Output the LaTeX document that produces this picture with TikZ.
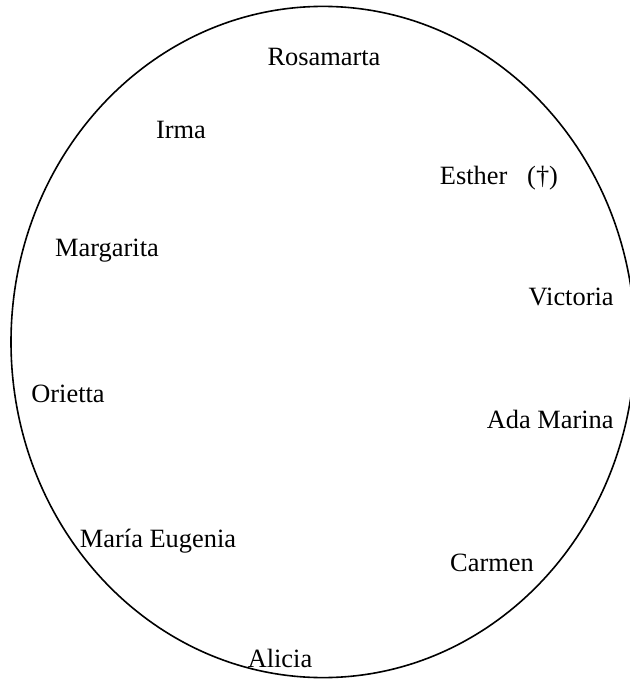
\documentclass[tikz,border=0pt]{standalone}
\usepackage{fontspec}
\setmainfont{Liberation Serif}
\usepackage{tikz}
\usetikzlibrary{positioning}

\begin{document}
\begin{tikzpicture}[x=0.5pt, y=-0.5pt, every node/.style={font=\fontsize{13.2}{15}\selectfont, inner sep=0pt}]
  \useasboundingbox (0,0) rectangle (629,679);
  \draw[line width=0.8pt] (323,342) ellipse [x radius=156pt, y radius=167.8pt];

  \node (rosamarta) at (324,57) {Rosamarta};
  \node (irma) at (181,130) {Irma};
  \node (esther) at (499,178) {Esther\hspace{0.75em}(†)};
  \node (margarita) at (107,251) {Margarita};
  \node[anchor=east] (victoria) at (614,297) {Victoria};
  \node (orietta) at (68,394) {Orietta};
  \node[anchor=east] (adamarina) at (614,419) {Ada Marina};
  \node (mariaeugenia) at (158,541) {María Eugenia};
  \node (carmen) at (492,563) {Carmen};
  \node (alicia) at (280,658) {Alicia};
\end{tikzpicture}
\end{document}
